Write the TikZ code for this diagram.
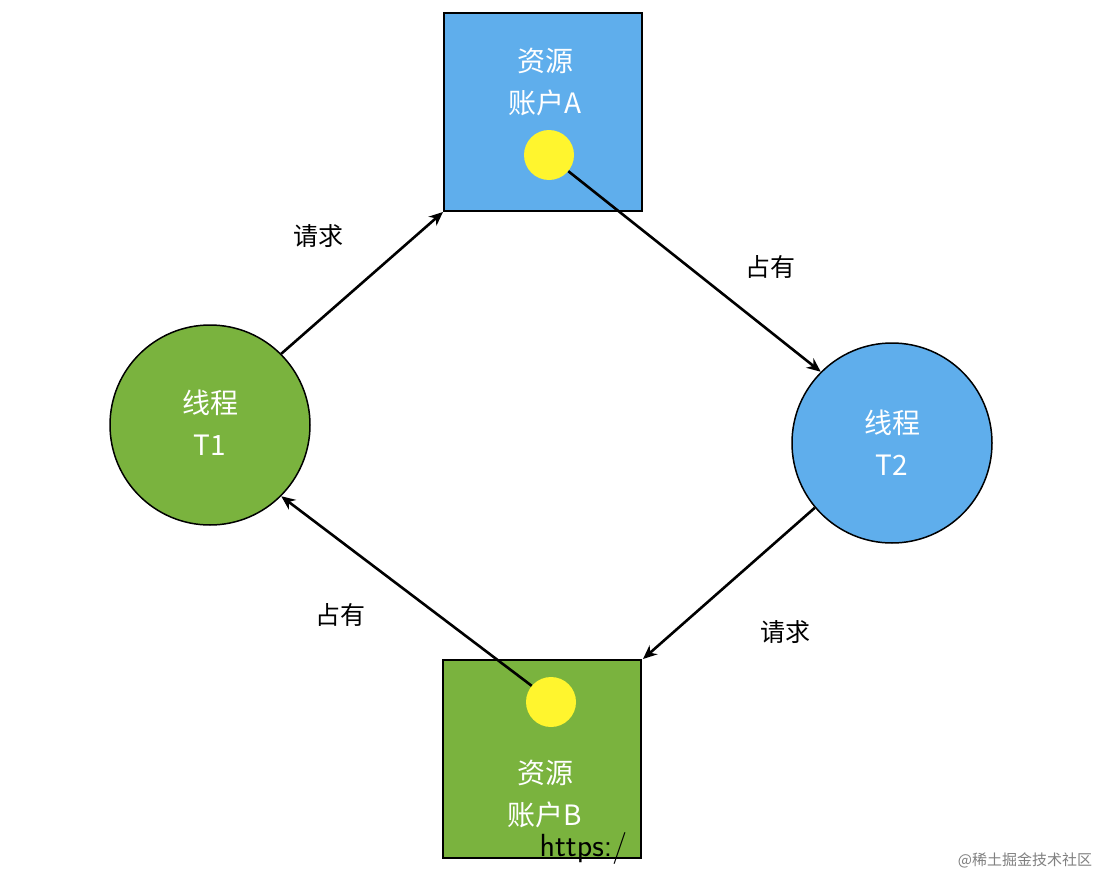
\documentclass[tikz,border=0pt]{standalone}
\usepackage{fontspec}
\setmainfont{Noto Sans CJK SC}
\usetikzlibrary{arrows.meta}
\definecolor{bblue}{HTML}{5FAEEC}
\definecolor{ggreen}{HTML}{7AB33E}
\definecolor{yel}{HTML}{FFF52E}
\begin{document}
\begin{tikzpicture}[x=1pt,y=-1pt,
  res/.style={draw=black,line width=1.5pt,minimum size=198pt,inner sep=0pt},
  thr/.style={draw=black,line width=1.5pt,circle,minimum size=200pt,inner sep=0pt},
  dot/.style={fill=yel,circle,minimum size=50pt,inner sep=0pt},
  arr/.style={line width=2.6pt,-{Stealth[length=14pt,width=12pt]}},
  wt/.style={text=white,font=\fontsize{28}{42}\selectfont,align=center},
  lab/.style={font=\fontsize{25}{28}\selectfont}]
\useasboundingbox (0,0) rectangle (1109,878);
\fill[white] (0,0) rectangle (1109,878);
\node[res,fill=bblue] (A) at (543,112) {};
\node[res,fill=ggreen] (B) at (542,759) {};
\node[thr,fill=ggreen] (T1) at (210,425) {};
\node[thr,fill=bblue] (T2) at (892,443) {};
\node[wt] (tA) at (545,82) {资源\\账户A};
\node[wt] (tB) at (545,794) {资源\\账户B};
\node[wt] (t1) at (210,423) {线程\\T1};
\node[wt] (t2) at (892,443) {线程\\T2};
\node[dot] (yA) at (549,155) {};
\node[dot] (yB) at (551,702) {};
\coordinate (Ac) at (443,212);
\coordinate (Bc) at (643,659);
\draw[arr] (T1.45) -- (Ac);
\draw[arr] (yA.-40) -- (T2.135);
\draw[arr] (T2.-140) -- (Bc);
\draw[arr] (yB.140) -- (T1.-45);
\node[lab] (l1) at (318,236) {请求};
\node[lab] (l2) at (770,267) {占有};
\node[lab] (l3) at (785,632) {请求};
\node[lab] (l4) at (340,615) {占有};
\node[font=\fontsize{32}{34}\selectfont\sffamily,anchor=west] (w1) at (536,848) {https:/};
\node[font=\fontsize{15}{18}\selectfont,text=gray] (w2) at (1025,860) {@稀土掘金技术社区};
\end{tikzpicture}
\end{document}
